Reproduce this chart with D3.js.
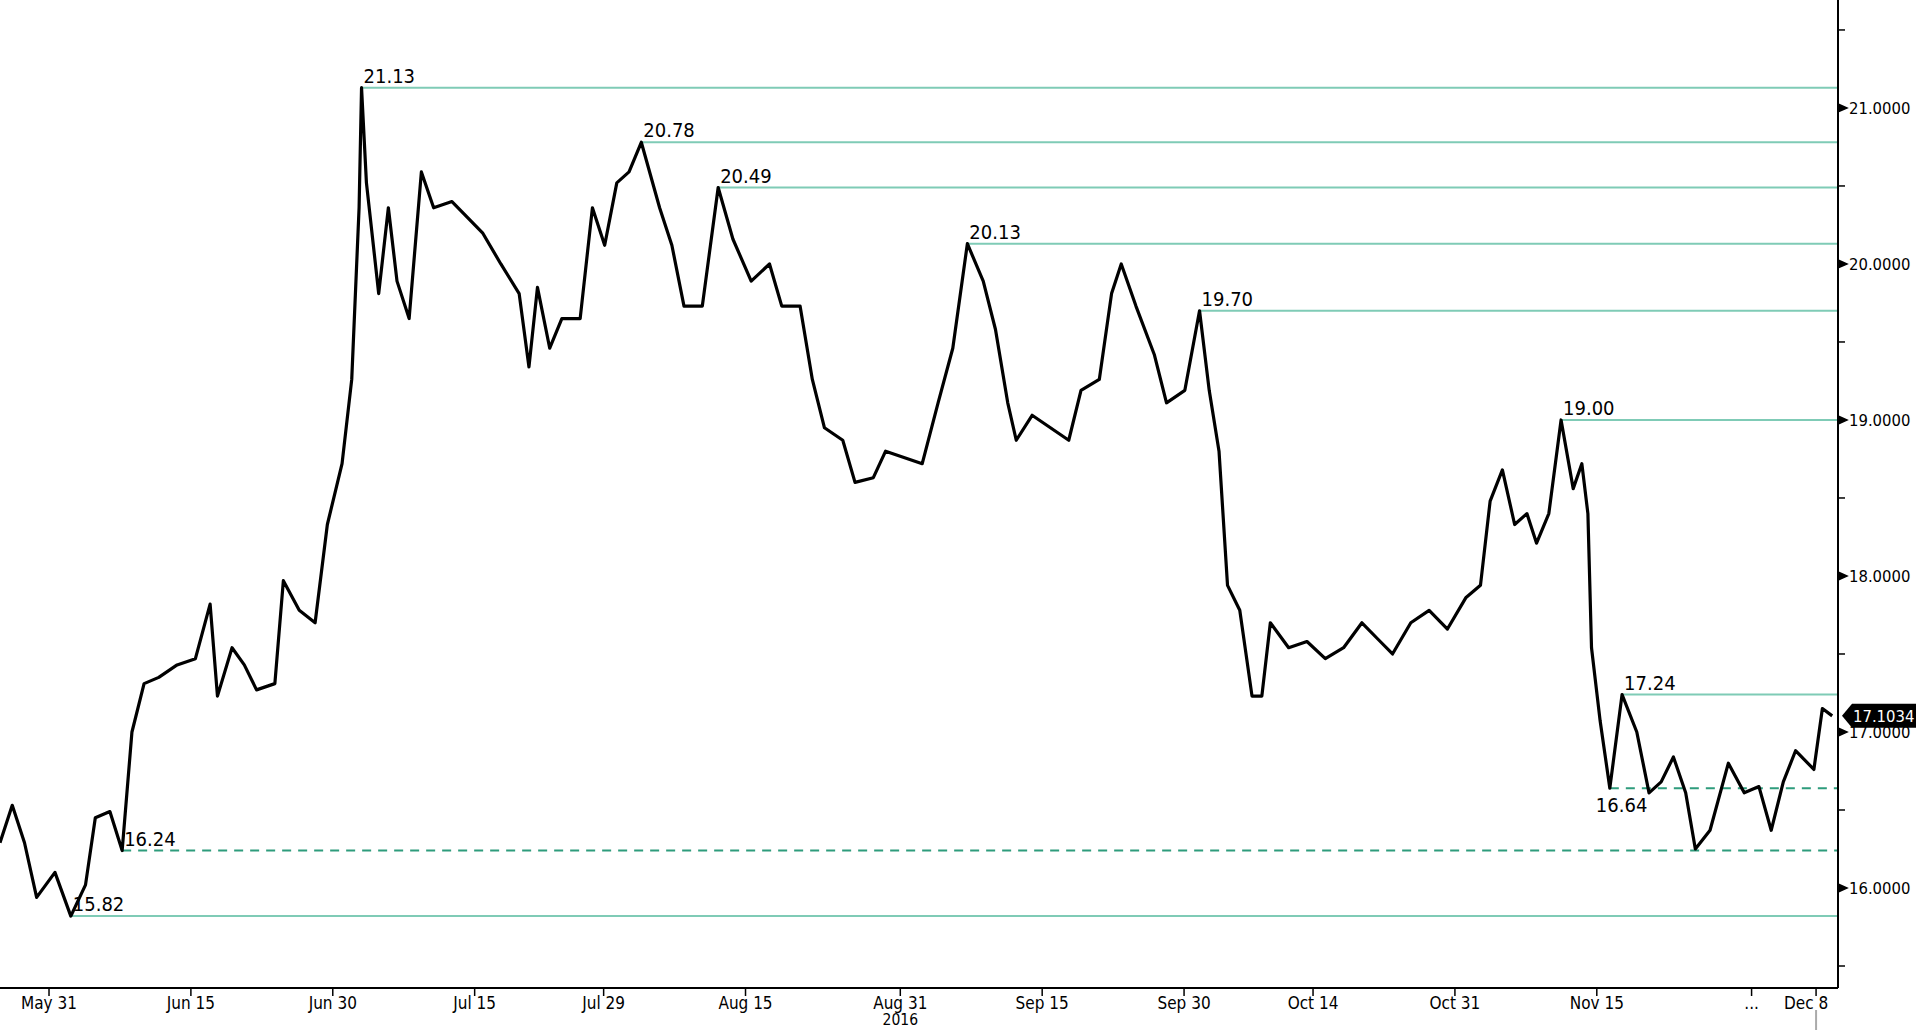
<!DOCTYPE html>
<html>
<head>
<meta charset="utf-8">
<script src="https://cdn.jsdelivr.net/npm/d3@7"></script>
<style>
  body { margin: 0; background: #fff; }
  text { font-family: "DejaVu Sans Condensed", "Liberation Sans", sans-serif; }
</style>
</head>
<body>
<div id="chart"></div>
<script>
// price path, [trading days since May 31, price]
var days = [-3.8,-2.85,-1.9,-0.96,0.46,1.69,2.83,3.59,4.72,5.67,6.43,7.37,8.51,9.93,11.35,12.49,13.06,14.19,15.14,16.09,17.51,18.17,19.4,20.63,21.58,22.72,23.47,24.04,24.23,24.61,25.56,26.31,26.98,27.92,28.87,29.82,31.24,32.19,33.61,35.03,36.45,37.21,37.87,38.82,39.76,41.18,42.13,43.08,44.02,44.97,45.92,47.34,48.29,49.23,50.65,51.88,53.02,54.44,55.86,56.81,58.23,59.18,60.12,61.54,62.49,63.91,64.86,66.28,67.7,68.93,70.07,71.2,72.43,73.38,74.33,74.99,76.22,77.64,79.06,80.01,81.43,82.38,83.13,84.27,85.69,86.64,88.06,89.2,89.95,90.71,91.37,92.32,93.27,94.03,94.69,96.11,97.53,98.95,100.37,101.79,103.21,104.16,105.58,107.0,108.42,109.84,110.98,111.73,112.68,113.63,114.58,115.33,116.28,117.23,118.17,118.84,119.31,119.59,120.26,121.01,121.96,123.1,124.05,124.99,125.94,126.89,127.64,128.78,130.2,131.43,132.57,133.52,134.46,135.41,136.83,137.49,138.25];
var prices = [16.29,16.53,16.29,15.94,16.1,15.82,16.02,16.45,16.49,16.24,17.0,17.31,17.35,17.43,17.47,17.82,17.23,17.54,17.43,17.27,17.31,17.97,17.78,17.7,18.33,18.72,19.26,20.36,21.13,20.52,19.81,20.36,19.89,19.65,20.59,20.36,20.4,20.32,20.2,20.0,19.81,19.34,19.85,19.46,19.65,19.65,20.36,20.12,20.52,20.59,20.78,20.36,20.12,19.73,19.73,20.49,20.16,19.89,20.0,19.73,19.73,19.26,18.95,18.87,18.6,18.63,18.8,18.76,18.72,19.11,19.46,20.13,19.89,19.58,19.11,18.87,19.03,18.95,18.87,19.19,19.26,19.81,20.0,19.73,19.42,19.11,19.19,19.7,19.19,18.8,17.94,17.78,17.23,17.23,17.7,17.54,17.58,17.47,17.54,17.7,17.58,17.5,17.7,17.78,17.66,17.86,17.94,18.48,18.68,18.33,18.4,18.21,18.4,19.0,18.56,18.72,18.4,17.54,17.07,16.64,17.24,17.0,16.61,16.68,16.84,16.61,16.25,16.37,16.8,16.61,16.65,16.37,16.68,16.88,16.76,17.15,17.1034];

var tickDays = [0, 11, 22, 33, 43, 54, 66, 77, 88, 98, 109, 120, 132, 137];
var tickLabels = ["May 31","Jun 15","Jun 30","Jul 15","Jul 29","Aug 15","Aug 31","Sep 15","Sep 30","Oct 14","Oct 31","Nov 15","...","Dec 8"];

var levelValues = [21.13, 20.78, 20.49, 20.13, 19.70, 19.00, 17.24, 15.82, 16.24, 16.64];
var levelStart  = [24.23, 45.92, 51.88, 71.2, 89.2, 117.23, 121.96, 1.69, 5.67, 121.01];
var levelDashed = [false,false,false,false,false,false,false,false,true,true];
var lastPrice = 17.1034;

var W = 1916, H = 1030, plotR = 1838, plotB = 988;
var svg = d3.select("#chart").append("svg").attr("width", W).attr("height", H);

var x = d3.scaleLinear().domain([-3.8, 138.7]).range([0, plotR]);
var y = d3.scaleLinear().domain([15.359, 21.692]).range([plotB, 0]);

// levels
levelValues.forEach(function(v, i) {
  svg.append("line")
    .attr("x1", x(levelStart[i])).attr("x2", plotR)
    .attr("y1", y(v)).attr("y2", y(v))
    .attr("stroke", levelDashed[i] ? "#2e9c7c" : "#7fcbb6")
    .attr("stroke-width", 2)
    .attr("stroke-dasharray", levelDashed[i] ? "9,7" : null);
  var below = (v === 16.64);
  svg.append("text")
    .attr("x", below ? x(levelStart[i]) - 14 : x(levelStart[i]) + 2)
    .attr("y", below ? y(v) + 24 : y(v) - 5)
    .attr("font-size", 20)
    .text(v.toFixed(2));
});

// price line
var pts = days.map(function(d, i) { return [d, prices[i]]; });
svg.append("path")
  .attr("d", d3.line().x(function(d) { return x(d[0]); }).y(function(d) { return y(d[1]); })(pts))
  .attr("fill", "none").attr("stroke", "#000").attr("stroke-width", 3.2)
  .attr("stroke-linejoin", "round");

// y axis
var yAxis = svg.append("g").attr("transform", "translate(" + plotR + ",0)")
  .call(d3.axisRight(y).tickValues([16,17,18,19,20,21]).tickSize(0).tickPadding(11).tickFormat(d3.format(".4f")));
yAxis.select(".domain").remove();
yAxis.selectAll("text").attr("font-size", 16.5).attr("fill", "#000");
svg.append("line").attr("x1", plotR).attr("x2", plotR).attr("y1", 0).attr("y2", plotB)
  .attr("stroke", "#000").attr("stroke-width", 2);
[15.5,16,16.5,17,17.5,18,18.5,19,19.5,20,20.5,21,21.5].forEach(function(v) {
  var isMajor = v % 1 === 0;
  svg.append("path")
    .attr("d", isMajor ? "M" + plotR + "," + (y(v) - 4) + "l9,4l-9,4z" : "M" + plotR + "," + y(v) + "h7")
    .attr("fill", "#000").attr("stroke", "#000").attr("stroke-width", 1.5);
});

// x axis
svg.append("line").attr("x1", 0).attr("x2", plotR).attr("y1", plotB).attr("y2", plotB)
  .attr("stroke", "#000").attr("stroke-width", 2);
tickDays.forEach(function(d, i) {
  svg.append("line").attr("x1", x(d)).attr("x2", x(d)).attr("y1", plotB).attr("y2", plotB + 8)
    .attr("stroke", "#000").attr("stroke-width", 1.5);
  svg.append("text").attr("x", x(d) - (i === 13 ? 10 : 0)).attr("y", plotB + 21)
    .attr("text-anchor", "middle").attr("font-size", 17).text(tickLabels[i]);
});
svg.append("text").attr("x", x(66)).attr("y", 1025).attr("text-anchor", "middle")
  .attr("font-size", 15.5).text("2016");
svg.append("line").attr("x1", x(137)).attr("x2", x(137)).attr("y1", 1010).attr("y2", 1030)
  .attr("stroke", "#aaa").attr("stroke-width", 2);

// last price tag
var ly = y(lastPrice);
svg.append("path")
  .attr("d", "M" + (plotR + 4) + "," + ly + "l10,-12h" + (W - plotR - 14) + "v24h-" + (W - plotR - 14) + "z")
  .attr("fill", "#000");
svg.append("text").attr("x", plotR + 15).attr("y", ly + 6).attr("fill", "#fff")
  .attr("font-size", 16.5).text(lastPrice.toFixed(4));
</script>
</body>
</html>
